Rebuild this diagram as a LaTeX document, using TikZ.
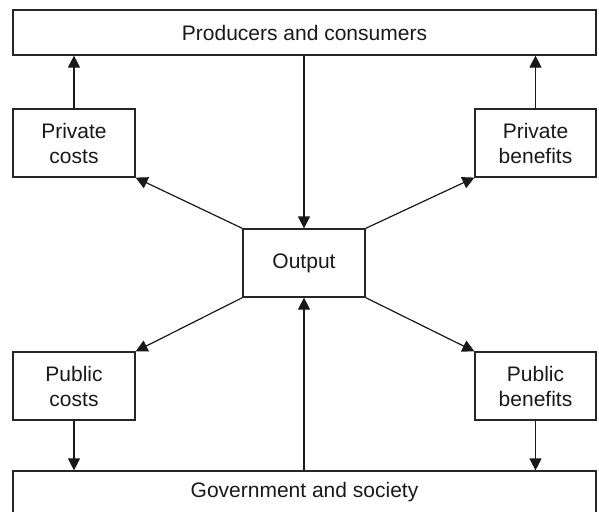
\documentclass[tikz,border=0pt]{standalone}
\usepackage{fontspec}
\setmainfont{Liberation Sans}
\usetikzlibrary{arrows.meta}
\begin{document}
\begin{tikzpicture}[x=1pt,y=-1pt,
  box/.style={draw=black!85,line width=1.2pt,inner sep=0pt,align=center,
    font=\fontsize{21}{25}\selectfont,text=black!90},
  conn/.style={line width=1.2pt,draw=black!90,-{Triangle[length=12pt,width=12pt]}}]
\useasboundingbox (0,0) rectangle (599,511);
\node[box,minimum width=583pt,minimum height=45pt] (top) at (304.5,32.5) {Producers and consumers};
\node[box,minimum width=122pt,minimum height=68pt] (pc) at (74,143) {Private\\costs};
\node[box,minimum width=121pt,minimum height=68pt] (pb) at (535.5,143) {Private\\benefits};
\node[box,minimum width=122pt,minimum height=68pt] (out) at (304,263) {Output};
\node[box,minimum width=122pt,minimum height=68pt] (puc) at (74,386) {Public\\costs};
\node[box,minimum width=121pt,minimum height=68pt] (pub) at (535.5,386) {Public\\benefits};
\node[box,minimum width=583pt,minimum height=43pt] (bot) at (304.5,492.5) {Government and society};
\draw[conn] (pc.north) -- (pc.north |- top.south);
\draw[conn] (pb.north) -- (pb.north |- top.south);
\draw[conn] (out.north |- top.south) -- (out.north);
\draw[conn] (out.south |- bot.north) -- (out.south);
\draw[conn] (out.north west) -- (pc.south east);
\draw[conn] (out.north east) -- (pb.south west);
\draw[conn] (out.south west) -- (puc.north east);
\draw[conn] (out.south east) -- (pub.north west);
\draw[conn] (puc.south) -- (puc.south |- bot.north);
\draw[conn] (pub.south) -- (pub.south |- bot.north);
\end{tikzpicture}
\end{document}
